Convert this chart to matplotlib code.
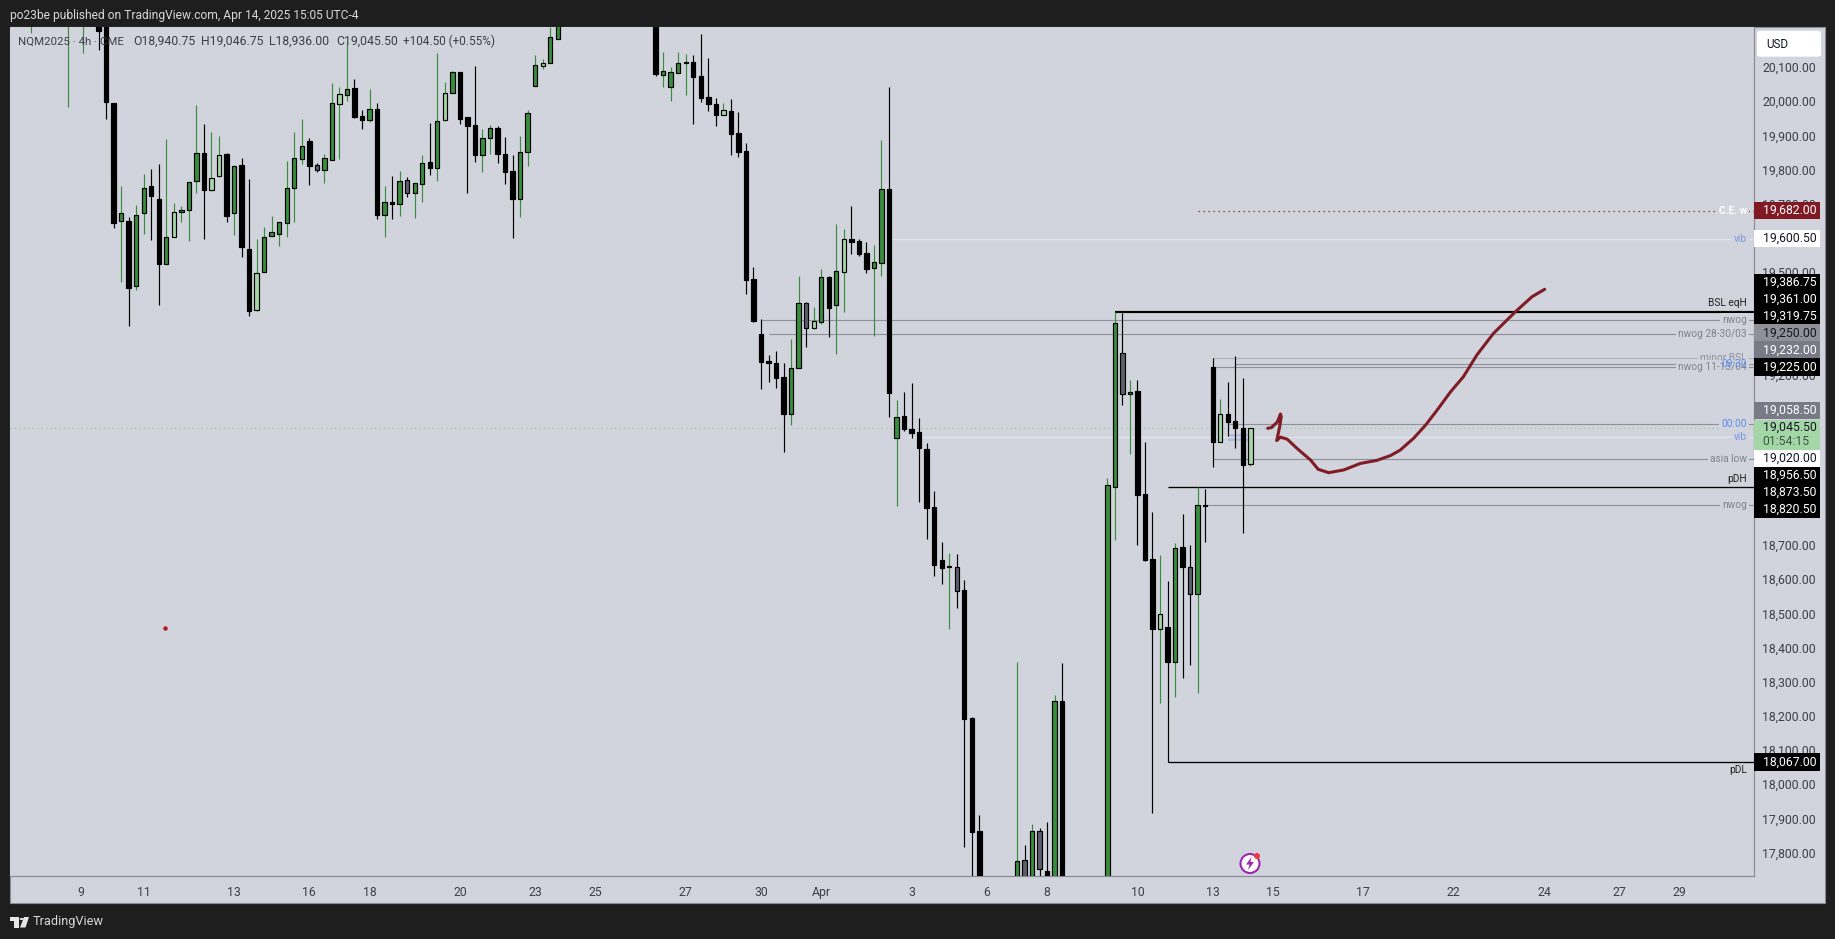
import matplotlib
matplotlib.use("Agg")
import matplotlib.pyplot as plt
from matplotlib.patches import Rectangle, Circle, Polygon, FancyBboxPatch
from matplotlib.transforms import ScaledTranslation

plt.rcParams['font.family'] = ['Roboto', 'DejaVu Sans']

# ---------- candle data (prices; values beyond the pane are estimates) ----------
idx_a = [-9, -4, -2] + list(range(0, 62))
high_a = [20400, 20400, 20400,
          20420, 20400, 19996, 19754, 19663, 19699, 19790, 19804, 19819, 19891,
          19704, 19696, 19767, 19991, 19936, 19912, 19901, 19850, 19816, 19835,
          19774, 19599, 19633, 19667, 19648, 19827, 19912, 19950, 19894, 19821,
          19848, 20055, 20043, 20172, 20067, 19976, 20038, 19996, 19754, 19784,
          19797, 19780, 19764, 19845, 19939, 20143, 20058, 20092, 20087, 19955,
          20106, 19920, 19932, 19930, 19897, 19845, 19901, 19977, 20138, 20125,
          20219, 20300]
top_a = [20380, 20380, 20380,
         20400, 20350, 19996, 19674, 19652, 19669, 19750, 19753, 19715, 19604,
         19677, 19684, 19765, 19850, 19850, 19777, 19844, 19847, 19813, 19815,
         19569, 19499, 19606, 19619, 19648, 19748, 19835, 19871, 19885, 19815,
         19835, 19996, 20023, 20037, 20040, 19958, 19979, 19979, 19709, 19709,
         19768, 19771, 19762, 19823, 19824, 19944, 20026, 20087, 20087, 19955,
         19932, 19894, 19923, 19923, 19847, 19797, 19855, 19969, 20108, 20116,
         20190, 20290]
bot_a = [20330, 20300, 20300,
         20209, 20001, 19647, 19653, 19457, 19463, 19676, 19726, 19527, 19527,
         19604, 19679, 19685, 19770, 19744, 19744, 19785, 19668, 19676, 19577,
         19389, 19391, 19504, 19609, 19615, 19647, 19750, 19834, 19814, 19801,
         19802, 19831, 19995, 20022, 19956, 19949, 19949, 19670, 19670, 19703,
         19703, 19735, 19735, 19761, 19808, 19808, 19949, 20028, 19952, 19931,
         19846, 19846, 19896, 19848, 19796, 19717, 19717, 19855, 20048, 20107,
         20116, 20186]
low_a = [20203, 19987, 20145,
         20153, 19950, 19631, 19473, 19344, 19451, 19614, 19596, 19406, 19527,
         19604, 19649, 19594, 19735, 19600, 19741, 19782, 19650, 19612, 19547,
         19375, 19389, 19504, 19609, 19579, 19606, 19649, 19819, 19757, 19795,
         19764, 19830, 19833, 20003, 19954, 19922, 19942, 19659, 19605, 19659,
         19667, 19723, 19661, 19708, 19788, 19769, 19946, 20028, 19936, 19734,
         19825, 19795, 19848, 19822, 19760, 19602, 19664, 19813, 20048, 20097,
         20114, 20186]
kind_a = "ggg" + "kkkgkggkkg" "lgggkllkgk" "klggggggks" "gglgkkgkgk" "gsggkglgkk" "kggkkkgggl" "gg"

idx_b = list(range(74, 118))
high_b = [20420, 20147, 20102, 20147, 20140, 20138, 20199, 20129, 20012, 19997,
          20009, 19971, 19879, 19516, 19365, 19260, 19271, 19235, 19305, 19491,
          19415, 19399, 19510, 19491, 19643, 19628, 19696, 19598, 19590, 19582,
          19889, 20043, 19128, 19151, 19177, 19074, 19001, 18861, 18711, 18679,
          18676, 18601, 18199, 17912]
top_b = [20400, 20090, 20087, 20114, 20117, 20117, 20076, 20014, 19994, 19976,
         19973, 19909, 19856, 19481, 19320, 19242, 19235, 19194, 19221, 19411,
         19411, 19358, 19487, 19487, 19505, 19598, 19598, 19592, 19557, 19531,
         19745, 19745, 19077, 19080, 19042, 19033, 18984, 18814, 18658, 18641,
         18638, 18572, 18196, 17865]
bot_b = [20083, 20080, 20045, 20086, 20116, 20075, 20013, 19995, 19963, 19963,
         19908, 19854, 19480, 19359, 19240, 19237, 19193, 19087, 19088, 19221,
         19340, 19340, 19357, 19398, 19407, 19504, 19591, 19555, 19512, 19515,
         19530, 19149, 19017, 19042, 19032, 18988, 18813, 18646, 18637, 18639,
         18570, 18193, 17864, 17700]
low_b = [20076, 20044, 20004, 20086, 20021, 19936, 20000, 19974, 19930, 19963,
         19845, 19839, 19438, 19356, 19160, 19181, 19163, 18976, 19055, 19221,
         19283, 19337, 19350, 19312, 19262, 19385, 19555, 19549, 19500, 19315,
         19491, 19079, 18818, 19037, 19017, 18829, 18722, 18613, 18590, 18458,
         18520, 17820, 17650, 17650]
kind_b = "kggggkkkkl" "kkkkkkkkgg" "slgkglkkkg" "gkgkkkkkkg" "skkk"

idx_c = list(range(122, 129))
high_c = [18361, 17824, 17886, 17874, 17892, 18263, 18357]
top_c = [17779, 17782, 17865, 17865, 17748, 18246, 18246]
bot_c = [17700, 17700, 17700, 17754, 17700, 17700, 17700]
low_c = [17650, 17650, 17650, 17650, 17650, 17650, 17650]
kind_c = "gsgskgk"

idx_d = list(range(134, 154))
high_d = [18898, 19386, 19384, 19186, 19186, 19004, 18799, 18674, 18598, 18708,
          18794, 18702, 18872, 18866, 19250, 19130, 19181, 19257, 19192, 19046.75]
top_d = [18878, 19352, 19264, 19150, 19154, 18852, 18661, 18500, 18462, 18694,
         18696, 18638, 18819, 18819, 19223, 19086, 19086, 19065, 19045, 19045.5]
bot_d = [17700, 18874, 19146, 19146, 18851, 18659, 18458, 18458, 18362, 18362,
         18640, 18561, 18561, 18818, 19006, 19006, 19064, 19045, 18938, 18940.75]
low_d = [17650, 18718, 19113, 18970, 18703, 18657, 17920, 18242, 18067, 18259,
         18315, 18352, 18271, 18712, 18933, 19006, 19022, 18988, 18739, 18936]
kind_d = "ggsgkkklkgksgkklkkkl"

# ---------- levels ----------
level_prices = [19682, 19600.5, 19386.75, 19361, 19319.75, 19250, 19232, 19225,
                19058.5, 19020, 18956.5, 18873.5, 18820.5, 18067]
level_starts = [146, 105.4, 135, 88, 89, 148, 151, 148, 150, 107.4, 148, 142, 147, 142]
level_names = ["C.E. w", "vib", "BSL eqH", "nwog", "nwog 28-30/03", "minor BSL", "09:30",
               "nwog 11-13/04", "00:00", "vib", "asia low", "pDH", "nwog", "pDL"]
level_kinds = ["ce", "vib", "major", "grey", "grey", "faint", "t", "grey", "t", "vib",
               "grey", "pd", "grey", "pd"]

# ---------- price axis ----------
price_ticks = list(range(17800, 20101, 100))
tag_values = ["19,682.00", "19,600.50", "19,386.75", "19,361.00", "19,319.75", "19,250.00",
              "19,232.00", "19,225.00", "19,058.50", "19,020.00", "18,956.50", "18,873.50",
              "18,820.50", "18,067.00"]
tag_styles = ["red", "white", "black", "black", "black", "grey2", "grey1", "black", "grey1",
              "white", "black", "black", "black", "black"]

# ---------- time axis ----------
time_pos = [-2.3, 6, 18, 28, 36, 48, 58, 66, 78, 88, 96, 108, 118, 126, 138, 148, 156, 168, 180, 192, 202, 210]
time_labels = ["9", "11", "13", "16", "18", "20", "23", "25", "27", "30", "Apr", "3", "6", "8",
               "10", "13", "15", "17", "22", "24", "27", "29"]

# ---------- hand-drawn projection (bar position, price) ----------
sketch_x = [155.3, 155.8, 156.6, 157.0, 157.1, 156.9, 156.5, 157.0, 157.9, 159.2, 161.0, 162.0,
            163.4, 165.4, 167.6, 169.8, 171.6, 172.9, 174.7, 176.3, 177.8, 179.6, 181.3, 183.1,
            185.3, 188.2, 190.4, 192.1]
sketch_y = [19045, 19047, 19064, 19087, 19079, 19050, 19009, 19019, 19013, 18986, 18952, 18925,
            18915, 18923, 18942, 18951, 18965, 18981, 19016, 19055, 19098, 19152, 19196, 19260,
            19323, 19386, 19430, 19452]

W, H = 1835, 939
BG = "#d1d4dc"
DARK = "#1e1e1e"
GREEN = "#388e3c"
LIGHT = "#a5d6a7"
GREY = "#5d606b"
FS = 8.8


def fx(x):
    return x / W


def fy(y):
    return 1 - y / H


fig = plt.figure(figsize=(W / 100, H / 100), dpi=100, facecolor=DARK)
fig.patches.append(Rectangle((fx(10), fy(903)), fx(1815), 876 / H, transform=fig.transFigure,
                             facecolor=BG, edgecolor="#8a8d96", lw=0.8, zorder=-1))

ax = fig.add_axes([fx(10), fy(876), fx(1744), 849 / H], facecolor=BG)
ax.set_xlim(-11.76, 219.9)
ax.set_ylim(20299 - 2.928 * 876, 20299 - 2.928 * 27)
for s in ax.spines.values():
    s.set_color("#8a8d96")
    s.set_linewidth(0.9)
ax.spines['left'].set_visible(False)
ax.spines['top'].set_visible(False)
ax.yaxis.tick_right()
ax.set_yticks(price_ticks)
ax.set_yticklabels([f"{p:,.2f}" for p in price_ticks], fontsize=FS, color="#3c3f48")
ax.set_xticks(time_pos)
ax.set_xticklabels(time_labels, fontsize=FS, color="#3c3f48")
ax.tick_params(axis='both', length=0)
ax.tick_params(axis='y', pad=6)
ax.tick_params(axis='x', pad=7)
lift = ScaledTranslation(0, 1 / 100, fig.dpi_scale_trans)
for lab in ax.get_yticklabels():
    lab.set_transform(lab.get_transform() + lift)

FACE = {"k": "#000000", "g": GREEN, "l": LIGHT, "s": GREY}
WICK = {"k": "#000000", "g": GREEN, "l": GREEN, "s": "#000000"}

for idx, hi, top, bot, lo, kinds in [(idx_a, high_a, top_a, bot_a, low_a, kind_a),
                                     (idx_b, high_b, top_b, bot_b, low_b, kind_b),
                                     (idx_c, high_c, top_c, bot_c, low_c, kind_c),
                                     (idx_d, high_d, top_d, bot_d, low_d, kind_d)]:
    wick_colors = [WICK[k] for k in kinds]
    ax.vlines(idx, lo, hi, colors=wick_colors, linewidth=0.85, zorder=3)
    ax.bar(idx, [t - b for t, b in zip(top, bot)], bottom=bot, width=0.58,
           color=[FACE[k] for k in kinds], edgecolor="#000000", linewidth=0.85, zorder=4)

xmax = ax.get_xlim()[1]

# last-price dotted line
ax.axhline(19045.5, color="#7fd08a", lw=0.8, ls=(0, (1, 3)), zorder=2)

# vib highlight box
ax.fill_between([150, 153], 19008, 19028, color="#b2bcdc", lw=0, zorder=2)

LINE = {"ce": ("#8b1a24", 0.9, (0, (1, 3))), "vib": ("#e2e4ea", 0.95, "-"),
        "major": ("#000000", 1.55, "-"), "grey": ("#8f929b", 0.85, "-"),
        "faint": ("#b0b2ba", 0.85, "-"), "t": ("#8f929b", 0.85, "-"), "pd": ("#000000", 0.95, "-")}
TXT = {"ce": "#ffffff", "vib": "#7d9ae0", "major": "#222222", "grey": "#80838c",
       "faint": "#8f929b", "t": "#5d8cf0", "pd": "#222222"}

for p, st, name, k in zip(level_prices, level_starts, level_names, level_kinds):
    c, lw, ls = LINE[k]
    ax.hlines(p, st, xmax, colors=c, linewidth=lw, linestyles=[ls], zorder=2)

for p, name, k in zip(level_prices, level_names, level_kinds):
    off = {"BSL eqH": 8.5, "pDH": 8, "pDL": -8}.get(name, 0)
    box = None if off or name == "09:30" else dict(facecolor=BG, edgecolor="none", pad=1.5)
    weight = "bold" if k == "ce" else "normal"
    ax.annotate(name, xy=(xmax, p), xytext=(-7, off), textcoords="offset pixels",
                ha="right", va="center", fontsize=7.3, color=TXT[k], fontweight=weight,
                bbox=box, zorder=6 if name == "09:30" else 5)

# drawing
ax.plot(sketch_x, sketch_y, color="#801c26", lw=2.2, solid_joinstyle="round",
        solid_capstyle="round", zorder=7)

# stray red marker on the pane
ax.plot([8.8], [18460], marker="o", ms=2.2, color="#b71c1c", zorder=3)

# price tags
TAG = {"red": ("#801922", "#ffffff"), "white": ("#ffffff", "#131722"), "black": ("#000000", "#ffffff"),
       "grey2": ("#8f9199", "#131722"), "grey1": ("#787b86", "#ffffff")}
tag_centres = [210.7, 238.7, 282.3, 299, 316, 333, 350, 367, 410.7, 458.7, 475.7, 492.7, 509.7, 762]
for txt, st, yc in zip(tag_values, tag_styles, tag_centres):
    bgc, fgc = TAG[st]
    fig.patches.append(Rectangle((fx(1754), fy(yc + 8.6)), fx(66), 17.2 / H, transform=fig.transFigure,
                                 facecolor=bgc, edgecolor="none", zorder=5))
    fig.text(fx(1762.5), fy(yc), txt, color=fgc, fontsize=FS, ha="left", va="center", zorder=6)

# last price tag with countdown
fig.patches.append(Rectangle((fx(1754), fy(450.4)), fx(66), 30.4 / H, transform=fig.transFigure,
                             facecolor=LIGHT, edgecolor="none", zorder=5))
fig.text(fx(1762.5), fy(427.5), "19,045.50", color="#131722", fontsize=FS, ha="left", va="center", zorder=6)
fig.text(fx(1762.5), fy(441.7), "01:54:15", color="#3a5a40", fontsize=FS, ha="left", va="center", zorder=6)

# currency button
fig.patches.append(FancyBboxPatch((fx(1757), fy(56.7)), fx(64), 26 / H, transform=fig.transFigure,
                                  boxstyle="round,pad=0,rounding_size=0.002", facecolor="#ffffff",
                                  edgecolor="none", zorder=5))
fig.text(fx(1766), fy(45), "USD", color="#131722", fontsize=8.4, ha="left", va="center", zorder=6)

# header, legend, footer
fig.text(fx(10), fy(15.5), "po23be published on TradingView.com, Apr 14, 2025 15:05 UTC-4",
         color="#d8d8d8", fontsize=8.65, ha="left", va="center")
legend_parts = ["NQM2025 · 4h · CME", "O18,940.75", "H19,046.75", "L18,936.00", "C19,045.50", "+104.50 (+0.55%)"]
legend_x = [18, 133, 201, 269, 336, 402.5]
legend_fs = [8.2, 8.8, 8.8, 8.8, 8.8, 8.5]
for part, lx, lfs in zip(legend_parts, legend_x, legend_fs):
    fig.text(fx(lx), fy(41.5), part, color="#3c3f48", fontsize=lfs, ha="left", va="center", zorder=6)
fig.text(fx(33), fy(921.5), "TradingView", color="#d8d8d8", fontsize=9.2, ha="left", va="center")

# logo
fig.patches.append(Polygon([(fx(10), fy(917)), (fx(19), fy(917)), (fx(19), fy(927.5)), (fx(14), fy(927.5)),
                            (fx(14), fy(921)), (fx(10), fy(921))], transform=fig.transFigure,
                           facecolor="#e6e6e6", edgecolor="none"))
fig.patches.append(Circle((fx(21.6), fy(919)), 0.0011, transform=fig.transFigure, facecolor="#e6e6e6"))
fig.patches.append(Polygon([(fx(24), fy(917)), (fx(29), fy(917)), (fx(25.5), fy(927.5)), (fx(20), fy(927.5))],
                           transform=fig.transFigure, facecolor="#e6e6e6", edgecolor="none"))

# alert badge at the foot of the pane
ax_badge = fig.add_axes([fx(1238), fy(875), fx(24), 24 / H], zorder=8)
ax_badge.set_xlim(0, 24)
ax_badge.set_ylim(24, 0)
ax_badge.axis("off")
ax_badge.add_patch(Circle((12, 12.5), 9.5, facecolor="#ffffff", edgecolor="#9c27b0", lw=1.5))
ax_badge.add_patch(Polygon([(13.5, 6), (8, 13.5), (11.5, 13.5), (10, 19), (16, 11), (12.5, 11)],
                           facecolor="#9c27b0", edgecolor="none"))
ax_badge.add_patch(Circle((19, 5), 3, facecolor="#f23645", edgecolor="none", zorder=5))

fig.savefig("out.png", dpi=100, facecolor=DARK)
